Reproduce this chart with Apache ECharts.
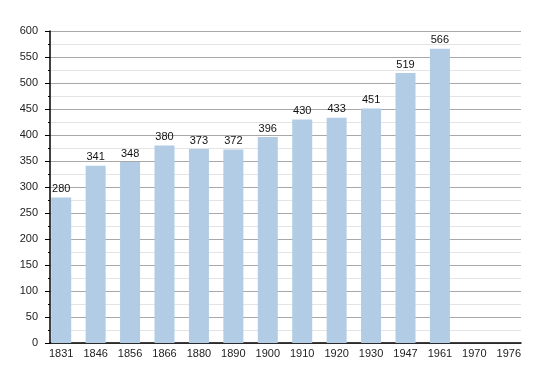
<!DOCTYPE html>
<html><head><meta charset="utf-8">
<script src="https://cdn.jsdelivr.net/npm/echarts@6/dist/echarts.min.js"></script>
<style>html,body{margin:0;padding:0;background:#fff}#c{width:550px;height:373px}</style>
</head><body><div id="c"></div>
<script>
const years = ['1831','1846','1856','1866','1880','1890','1900','1910','1920','1930','1947','1961','1970','1976'];
const population = [280,341,348,380,373,372,396,430,433,451,519,566,null,null];
const yMin = 0, yMax = 600, yStep = 50;

const font = 'Liberation Sans, Arial, sans-serif';
const chart = echarts.init(document.getElementById('c'), null, {renderer:'canvas'});
chart.setOption({
  animation:false,
  backgroundColor:'#fff',
  grid:[
    {left:50, right:29, top:31, bottom:30},
    {left:44, right:24, top:31, bottom:30}
  ],
  xAxis:[
    {gridIndex:0, type:'value', min:0, max:1, axisLine:{show:true, onZero:false, lineStyle:{color:'#000', width:1.5}},
     axisTick:{show:false}, axisLabel:{show:false}, splitLine:{show:false}},
    {gridIndex:1, type:'category', data:years, axisLine:{show:false}, axisTick:{show:false},
     axisLabel:{color:'#222', fontFamily:font, fontSize:11, margin:5}}
  ],
  yAxis:[
    {gridIndex:0, type:'value', min:yMin, max:yMax, interval:yStep,
     axisLine:{show:true, lineStyle:{color:'#000', width:1.5}},
     axisTick:{show:true, length:5, lineStyle:{color:'#000'}},
     minorTick:{show:true, splitNumber:2, length:2, lineStyle:{color:'#000'}},
     axisLabel:{color:'#222', fontFamily:font, fontSize:11, margin:12},
     splitLine:{show:true, lineStyle:{color:'#a8a8a8', width:1}},
     minorSplitLine:{show:true, lineStyle:{color:'#e4e4e4', width:1}}},
    {gridIndex:1, type:'value', min:yMin, max:yMax, show:false, splitLine:{show:false}}
  ],
  series:[{
    type:'bar', xAxisIndex:1, yAxisIndex:1, data:population, barWidth:20,
    itemStyle:{color:'#b2cce5'},
    label:{show:true, position:'top', color:'#111', fontFamily:font, fontSize:11, distance:3}
  }]
});
</script></body></html>
